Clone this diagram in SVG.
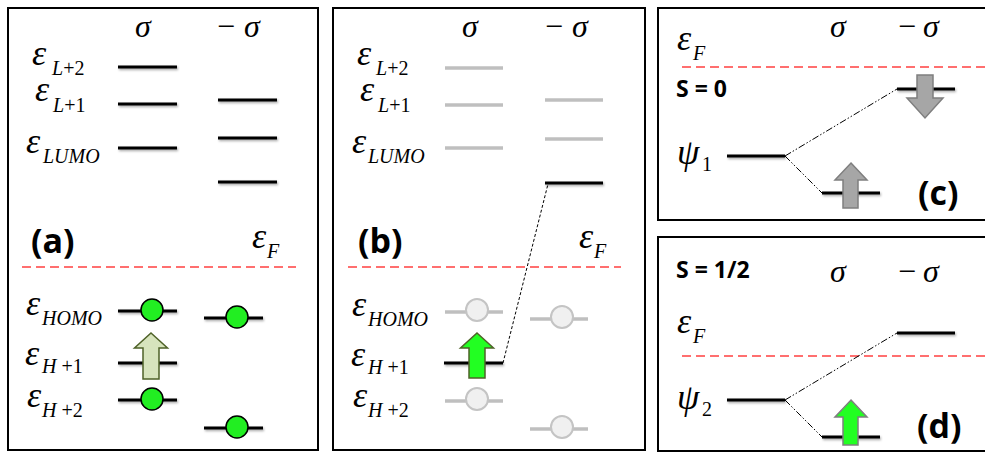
<svg xmlns="http://www.w3.org/2000/svg" width="985" height="453" viewBox="0 0 985 453">
<defs>
<style>
.frame{fill:#fff;stroke:#000;stroke-width:2}
.lvl{stroke:#000;stroke-width:3;filter:url(#sh)}
.gl{stroke:#bfbfbf;stroke-width:3.5}
.ef{stroke:#ff4040;stroke-width:1.3;stroke-dasharray:9 5;fill:none}
.math{font-family:"Liberation Serif","DejaVu Serif",serif;font-style:italic;fill:#000}
.eps{font-size:36px}
.sub{font-size:20px}
.up{font-style:normal}
.sig{font-size:32px}
.tag{font-family:"Open Sans","Liberation Sans",sans-serif;font-weight:bold;font-size:34px;fill:#000}
.spin{font-family:"Open Sans","Liberation Sans",sans-serif;font-weight:bold;font-size:23px;fill:#000}
.el{fill:#22ee22;stroke:#000;stroke-width:1.5}
.gel{fill:#f0f0f0;stroke:#c4c4c4;stroke-width:2}
.dd{stroke:#000;stroke-width:1;fill:none;stroke-dasharray:7 2 1.5 2 1.5 2}
.dsh{stroke:#000;stroke-width:1;fill:none;stroke-dasharray:3 2}
</style>
<filter id="sh" filterUnits="userSpaceOnUse" x="0" y="0" width="985" height="453">
<feDropShadow dx="1" dy="1.5" stdDeviation="1" flood-color="#000" flood-opacity="0.35"/>
</filter>
</defs>

<!-- Panel (a) -->
<g id="panel-a">
<rect class="frame" x="8" y="8" width="310" height="442"/>
<text class="math sig" x="135" y="37">σ</text>
<text class="math sig" x="217" y="37"><tspan class="up">−</tspan><tspan x="244">σ</tspan></text>
<text class="math" x="32" y="65"><tspan class="eps">ε</tspan><tspan class="sub" x="52" y="75">L<tspan class="up">+2</tspan></tspan></text>
<text class="math" x="35" y="101"><tspan class="eps">ε</tspan><tspan class="sub" x="53" y="112">L<tspan class="up">+1</tspan></tspan></text>
<text class="math" x="26" y="153"><tspan class="eps">ε</tspan><tspan class="sub" x="43" y="163">LUMO</tspan></text>
<text class="tag" x="31" y="253">(a)</text>
<text class="math" x="252" y="248"><tspan class="eps">ε</tspan><tspan class="sub" x="267" y="258">F</tspan></text>
<line class="ef" x1="22" y1="267" x2="296" y2="267"/>
<text class="math" x="26" y="315"><tspan class="eps">ε</tspan><tspan class="sub" x="42" y="325">HOMO</tspan></text>
<text class="math" x="25" y="365"><tspan class="eps">ε</tspan><tspan class="sub" x="42" y="373">H <tspan class="up">+1</tspan></tspan></text>
<text class="math" x="27" y="407"><tspan class="eps">ε</tspan><tspan class="sub" x="42" y="417">H <tspan class="up">+2</tspan></tspan></text>
</g>
<g id="a-L2"><line class="lvl" x1="118" y1="67" x2="177" y2="67"/></g>
<g id="a-L1"><line class="lvl" x1="118" y1="104" x2="177" y2="104"/></g>
<g id="a-LUMO"><line class="lvl" x1="118" y1="148" x2="177" y2="148"/></g>
<g id="a-mL1"><line class="lvl" x1="218" y1="100" x2="277" y2="100"/></g>
<g id="a-mL2"><line class="lvl" x1="218" y1="138" x2="277" y2="138"/></g>
<g id="a-mLUMO"><line class="lvl" x1="218" y1="182" x2="277" y2="182"/></g>
<g id="a-HOMO"><line class="lvl" x1="118" y1="311" x2="177" y2="311"/><circle class="el" cx="152" cy="310" r="11"/></g>
<g id="a-mHOMO"><line class="lvl" x1="204" y1="318" x2="263" y2="318"/><circle class="el" cx="237" cy="317" r="11"/></g>
<g id="a-H1"><line class="lvl" x1="118" y1="363" x2="177" y2="363"/>
<path d="M151,333 L167.5,348 L159,348 L159,379 L143,379 L143,348 L134.5,348 Z" fill="#d7e4bd" stroke="#4f6228" stroke-width="1.5"/></g>
<g id="a-H2"><line class="lvl" x1="118" y1="400" x2="177" y2="400"/><circle class="el" cx="152" cy="399" r="11"/></g>
<g id="a-mH2"><line class="lvl" x1="204" y1="428" x2="263" y2="428"/><circle class="el" cx="237" cy="427" r="11"/></g>

<!-- Panel (b) -->
<g id="panel-b">
<rect class="frame" x="333" y="8" width="312" height="442"/>
<text class="math sig" x="462" y="37">σ</text>
<text class="math sig" x="545" y="37"><tspan class="up">−</tspan><tspan x="572">σ</tspan></text>
<text class="math" x="357" y="65"><tspan class="eps">ε</tspan><tspan class="sub" x="376" y="75">L<tspan class="up">+2</tspan></tspan></text>
<text class="math" x="360" y="101"><tspan class="eps">ε</tspan><tspan class="sub" x="378" y="112">L<tspan class="up">+1</tspan></tspan></text>
<text class="math" x="352" y="153"><tspan class="eps">ε</tspan><tspan class="sub" x="368" y="163">LUMO</tspan></text>
<text class="tag" x="358" y="253">(b)</text>
<text class="math" x="579" y="248"><tspan class="eps">ε</tspan><tspan class="sub" x="594" y="258">F</tspan></text>
<line class="ef" x1="348" y1="267" x2="621" y2="267"/>
<text class="math" x="352" y="316"><tspan class="eps">ε</tspan><tspan class="sub" x="368" y="326">HOMO</tspan></text>
<text class="math" x="351" y="366"><tspan class="eps">ε</tspan><tspan class="sub" x="368" y="374">H <tspan class="up">+1</tspan></tspan></text>
<text class="math" x="353" y="407"><tspan class="eps">ε</tspan><tspan class="sub" x="368" y="417">H <tspan class="up">+2</tspan></tspan></text>
</g>
<g id="b-L2"><line class="gl" x1="445" y1="68" x2="503" y2="68"/></g>
<g id="b-L1"><line class="gl" x1="445" y1="105" x2="503" y2="105"/></g>
<g id="b-LUMO"><line class="gl" x1="445" y1="148" x2="503" y2="148"/></g>
<g id="b-mL1"><line class="gl" x1="545" y1="100" x2="603" y2="100"/></g>
<g id="b-mL2"><line class="gl" x1="545" y1="139" x2="603" y2="139"/></g>
<g id="b-mLUMO"><line class="lvl" x1="545" y1="183" x2="603" y2="183"/></g>
<g id="b-HOMO"><line class="gl" x1="445" y1="312" x2="503" y2="312"/><circle class="gel" cx="477" cy="310" r="11"/></g>
<g id="b-mHOMO"><line class="gl" x1="530" y1="319" x2="588" y2="319"/><circle class="gel" cx="562" cy="317" r="11"/></g>
<g id="b-H1"><line class="lvl" x1="444" y1="363" x2="503" y2="363"/>
<path d="M477,333 L493.5,348 L485,348 L485,378 L469,378 L469,348 L460.5,348 Z" fill="#22ff22" stroke="#4f6228" stroke-width="1.5"/></g>
<g id="b-H2"><line class="gl" x1="445" y1="401" x2="503" y2="401"/><circle class="gel" cx="477" cy="399" r="11"/></g>
<g id="b-mH2"><line class="gl" x1="530" y1="429" x2="588" y2="429"/><circle class="gel" cx="562" cy="427" r="11"/></g>

<!-- Panel (c) -->
<g id="panel-c">
<rect class="frame" x="658" y="8" width="340" height="212"/>
<text class="math" x="677" y="50"><tspan class="eps">ε</tspan><tspan class="sub" x="693" y="60">F</tspan></text>
<text class="math sig" x="830" y="37">σ</text>
<text class="math sig" x="898" y="37"><tspan class="up">−</tspan><tspan x="923">σ</tspan></text>
<line class="ef" x1="682" y1="67" x2="985" y2="67"/>
<text class="spin" x="676" y="97">S = 0</text>
<text class="math" x="677" y="164"><tspan class="eps">ψ</tspan><tspan class="sub up" x="702" y="171">1</tspan></text>
<text class="tag" x="918" y="205">(c)</text>
</g>
<g id="c-psi1"><line class="lvl" x1="727" y1="156" x2="785" y2="156"/></g>
<g id="c-down"><line class="lvl" x1="897" y1="89" x2="955" y2="89"/>
<path d="M917,75 L933,75 L933,98 L943,98 L925,118 L907,98 L917,98 Z" fill="#a6a6a6" stroke="#7f7f7f" stroke-width="1.5"/></g>
<g id="c-up"><line class="lvl" x1="822" y1="193" x2="880" y2="193"/>
<path d="M851,163 L867,180 L858,180 L858,208 L843,208 L843,180 L835,180 Z" fill="#a6a6a6" stroke="#7f7f7f" stroke-width="1.5"/></g>

<!-- Panel (d) -->
<g id="panel-d">
<rect class="frame" x="658" y="237" width="340" height="214"/>
<text class="spin" x="676" y="278">S = 1/2</text>
<text class="math sig" x="830" y="282">σ</text>
<text class="math sig" x="898" y="282"><tspan class="up">−</tspan><tspan x="923">σ</tspan></text>
<text class="math" x="677" y="333"><tspan class="eps">ε</tspan><tspan class="sub" x="693" y="343">F</tspan></text>
<line class="ef" x1="682" y1="356" x2="985" y2="356"/>
<text class="math" x="677" y="409"><tspan class="eps">ψ</tspan><tspan class="sub up" x="702" y="416">2</tspan></text>
<text class="tag" x="917" y="438">(d)</text>
</g>
<g id="d-psi2"><line class="lvl" x1="727" y1="400" x2="785" y2="400"/></g>
<g id="d-upper"><line class="lvl" x1="897" y1="333" x2="955" y2="333"/></g>
<g id="d-up"><line class="lvl" x1="822" y1="437" x2="880" y2="437"/>
<path d="M851,400 L867,417 L858,417 L858,445 L843,445 L843,417 L835,417 Z" fill="#22ff22" stroke="#7f7f7f" stroke-width="1.5"/></g>

<!-- Connectors -->
<g id="connectors">
<line class="dsh" x1="503" y1="363" x2="548" y2="184"/>
<line class="dd" x1="785" y1="156" x2="897" y2="89"/>
<line class="dd" x1="785" y1="156" x2="822" y2="193"/>
<line class="dd" x1="785" y1="400" x2="897" y2="333"/>
<line class="dd" x1="785" y1="400" x2="822" y2="437"/>
</g>
</svg>
